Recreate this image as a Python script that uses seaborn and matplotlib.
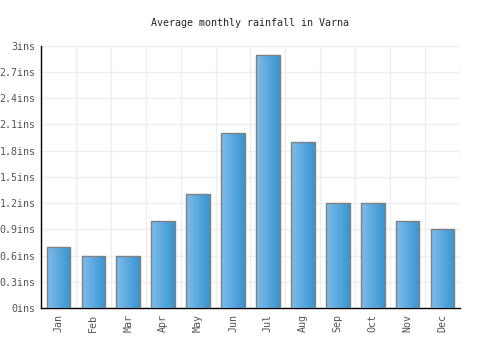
from matplotlib import pyplot as plt
import numpy as np
import pandas as pd
import seaborn as sns

months = ["Jan", "Feb", "Mar", "Apr", "May", "Jun",
          "Jul", "Aug", "Sep", "Oct", "Nov", "Dec"]
rainfall = [0.7, 0.6, 0.6, 1.0, 1.3, 2.0, 2.9, 1.9, 1.2, 1.2, 1.0, 0.9]
yticks = [0, 0.3, 0.6, 0.9, 1.2, 1.5, 1.8, 2.1, 2.4, 2.7, 3.0]
ylabels = ["0ins", "0.3ins", "0.6ins", "0.9ins", "1.2ins", "1.5ins",
           "1.8ins", "2.1ins", "2.4ins", "2.7ins", "3ins"]

data = pd.DataFrame({"Month": months, "Rainfall": rainfall})

sns.set_style("white")
plt.rcParams['font.family'] = ['DejaVu Sans Mono']

fig = plt.figure(figsize=(5, 3.5), dpi=100)
ax = fig.add_axes([0.082, 0.12, 0.838, 0.749])

g = sns.barplot(data=data, x="Month", y="Rainfall", ax=ax,
                color="#5aa8e0", width=0.68, edgecolor="#808080",
                linewidth=1, zorder=3)

# gradient fill, light on the left, darker on the right
grad = np.linspace(0, 1, 64).reshape(1, -1)
cmap = plt.matplotlib.colors.LinearSegmentedColormap.from_list(
    "bar", ["#7ebcec", "#3795cf"])
for p in list(g.patches):
    x0, y0 = p.get_x(), p.get_y()
    w, h = p.get_width(), p.get_height()
    im = ax.imshow(grad, cmap=cmap, aspect="auto",
                   extent=[x0, x0 + w, y0, y0 + h], zorder=3.5)
    im.set_clip_path(p)
    p.set_facecolor("none")
    p.set_zorder(4)

ax.set_xlim(-0.5, len(months) - 0.5)
ax.set_ylim(0, 3.0)
ax.set_yticks(yticks)
ax.set_yticklabels(ylabels, fontsize=7.2, color="#555555")
ax.set_xticks(range(len(months)))
ax.set_xticklabels(months, rotation=90, fontsize=7.2, color="#555555")

for v in yticks[1:]:
    ax.axhline(v, color="#eeeeee", lw=1, zorder=1)
for i in range(len(months)):
    ax.axvline(i + 0.5, color="#eeeeee", lw=1, zorder=1)

ax.set_xlabel("")
ax.set_ylabel("")
for s in ["top", "right"]:
    ax.spines[s].set_visible(False)
ax.spines["left"].set_color("black")
ax.spines["bottom"].set_color("black")
ax.spines["left"].set_linewidth(1)
ax.spines["bottom"].set_linewidth(1)
ax.tick_params(length=0, pad=4)

fig.suptitle("Average monthly rainfall in Varna", y=0.95, fontsize=7.2)

plt.savefig("out.png", dpi=100)
plt.close()
